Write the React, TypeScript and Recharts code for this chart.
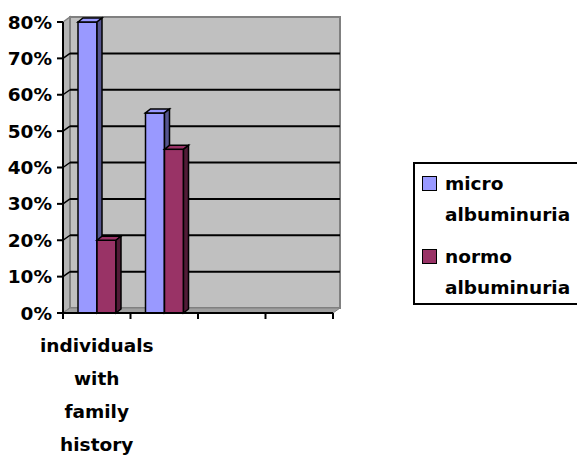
import React from 'react';
import { BarChart, Bar, XAxis, YAxis, ReferenceArea, Legend, Text } from 'recharts';

// chart data
const categories = ['individuals with family history', '', '', ''];
const microAlbuminuria = [80, 55, null, null];
const normoAlbuminuria = [20, 45, null, null];
const yTicks = [0, 10, 20, 30, 40, 50, 60, 70, 80];
const seriesNames = ['micro albuminuria', 'normo albuminuria'];
const seriesColors = ['#9999FF', '#993366'];
const seriesSides = ['#55558F', '#521B37'];

const data = categories.map((name, i) => ({
  id: i,
  name,
  micro: microAlbuminuria[i],
  normo: normoAlbuminuria[i],
}));

const FONT = '"DejaVu Sans", sans-serif';
const FS = 18.5;
const Y_MAX = yTicks[yTicks.length - 1];
const WALL_DX = 7;
const WALL_DY = 5;
const BAR_DX = 5;
const BAR_DY = 4;

// back wall, side wall, floor and gridlines of the 3d plot box
const Walls = (props: any) => {
  const { x, y, width, height } = props;
  const bottom = y + height;
  const lines = yTicks.slice(1, -1).map((t) => bottom - (t / Y_MAX) * height);
  return (
    <g>
      <polygon
        points={`${x},${y} ${x + WALL_DX},${y - WALL_DY} ${x + WALL_DX},${bottom - WALL_DY} ${x},${bottom}`}
        fill="#B4B4B4"
        stroke="#808080"
        strokeWidth={1.5}
      />
      <rect x={x + WALL_DX} y={y - WALL_DY} width={width} height={height} fill="#C0C0C0" stroke="#808080" strokeWidth={2} />
      <polygon
        points={`${x},${bottom} ${x + WALL_DX},${bottom - WALL_DY} ${x + width + WALL_DX},${bottom - WALL_DY} ${x + width},${bottom}`}
        fill="#A0A0A0"
        stroke="#808080"
        strokeWidth={1}
      />
      {lines.map((ly, i) => (
        <g key={i}>
          <line x1={x} y1={ly} x2={x + WALL_DX} y2={ly - WALL_DY} stroke="#000" strokeWidth={1.5} />
          <line x1={x + WALL_DX} y1={ly - WALL_DY} x2={x + WALL_DX + width} y2={ly - WALL_DY} stroke="#000" strokeWidth={2} />
        </g>
      ))}
    </g>
  );
};

const makeBar = (front: string, side: string) => (props: any) => {
  const { x, y, width, height } = props;
  if (!height || height <= 0) return null;
  const b = y + height;
  return (
    <g>
      <rect x={x} y={y} width={width} height={height} fill={front} stroke="#000" strokeWidth={1.5} />
      <polygon
        points={`${x},${y} ${x + BAR_DX},${y - BAR_DY} ${x + width + BAR_DX},${y - BAR_DY} ${x + width},${y}`}
        fill={front}
        stroke="#000"
        strokeWidth={1.5}
      />
      <polygon
        points={`${x + width},${y} ${x + width + BAR_DX},${y - BAR_DY} ${x + width + BAR_DX},${b - BAR_DY} ${x + width},${b}`}
        fill={side}
        stroke="#000"
        strokeWidth={1.5}
      />
    </g>
  );
};

const CategoryTick = (props: any) => {
  const { x, y, payload, index, visibleTicksCount } = props;
  const half = payload.offset ?? 270 / categories.length / 2;
  const label = categories[payload.value] ?? '';
  return (
    <g>
      <line x1={x - half} y1={y} x2={x - half} y2={y + 6} stroke="#000" strokeWidth={2} />
      {index === visibleTicksCount - 1 && (
        <line x1={x + half} y1={y} x2={x + half} y2={y + 6} stroke="#000" strokeWidth={2} />
      )}
      {label && (
        <Text
          x={x}
          y={y + 26}
          width={half * 2}
          textAnchor="middle"
          verticalAnchor="start"
          lineHeight={33}
          fontFamily={FONT}
          fontWeight={700}
          fontSize={FS}
          fill="#000"
        >
          {label}
        </Text>
      )}
    </g>
  );
};

const LegendBox = () => (
  <div
    style={{
      width: 180,
      height: 143,
      border: '2px solid #000',
      background: '#fff',
      boxSizing: 'border-box',
      fontFamily: FONT,
      fontWeight: 700,
      fontSize: FS,
      color: '#000',
      position: 'relative',
    }}
  >
    {seriesNames.map((n, i) => (
      <div key={n} style={{ position: 'absolute', left: 7, top: 4 + i * 73, display: 'flex' }}>
        <span
          style={{
            width: 13,
            height: 13,
            marginTop: 8,
            background: seriesColors[i],
            border: '1.5px solid #000',
            flex: 'none',
          }}
        />
        <span style={{ marginLeft: 8, width: 135, lineHeight: '31px' }}>{n}</span>
      </div>
    ))}
  </div>
);

export default function App() {
  return (
    <div style={{ position: 'absolute', left: 0, top: 0, width: 577, height: 456, overflow: 'hidden', background: '#fff' }}>
      <BarChart
        width={577}
        height={456}
        data={data}
        margin={{ top: 22, right: 244, left: 0, bottom: 0 }}
        barSize={19}
        barGap={0}
      >
        <ReferenceArea y1={0} y2={Y_MAX} shape={Walls} ifOverflow="visible" />
        <XAxis
          dataKey="id"
          height={143}
          interval={0}
          tickSize={0}
          tickMargin={0}
          axisLine={{ stroke: '#000', strokeWidth: 2 }}
          tickLine={false}
          tick={CategoryTick}
        />
        <YAxis
          width={63}
          domain={[0, Y_MAX]}
          ticks={yTicks}
          interval={0}
          tickFormatter={(v: number) => `${v}%`}
          tickSize={6}
          tickMargin={5}
          axisLine={{ stroke: '#000', strokeWidth: 2 }}
          tickLine={{ stroke: '#000', strokeWidth: 2 }}
          tick={{ fill: '#000', fontFamily: FONT, fontWeight: 700, fontSize: FS }}
        />
        <Bar dataKey="micro" name={seriesNames[0]} fill={seriesColors[0]} shape={makeBar(seriesColors[0], seriesSides[0])} isAnimationActive={false} />
        <Bar dataKey="normo" name={seriesNames[1]} fill={seriesColors[1]} shape={makeBar(seriesColors[1], seriesSides[1])} isAnimationActive={false} />
        <Legend
          layout="vertical"
          align="center"
          verticalAlign="middle"
          content={LegendBox}
          wrapperStyle={{ left: 413, top: 162, width: 180 }}
        />
      </BarChart>
    </div>
  );
}
